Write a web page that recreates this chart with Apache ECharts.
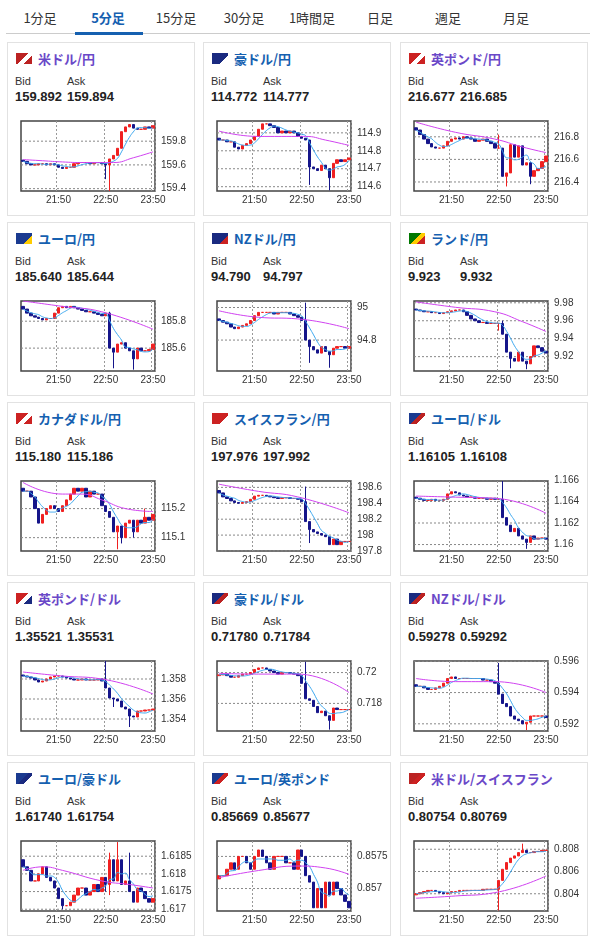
<!DOCTYPE html>
<html><head><meta charset="utf-8">
<script src="https://cdn.jsdelivr.net/npm/echarts@6/dist/echarts.min.js"></script>
<style>
body{margin:0;background:#fff;font-family:"Liberation Sans",Arial,"Noto Sans CJK JP",sans-serif;width:601px;height:943px;position:relative;overflow:hidden}
.tab{position:absolute;top:8px;font-size:13px;color:#333;text-align:center;width:68px;font-family:"Noto Sans CJK JP",sans-serif}
.tab.on{color:#1560b0;font-weight:bold}
.panel{position:absolute;width:188px;height:174px;border:1px solid #e2e2e2;box-sizing:border-box}
.ttl{position:absolute;left:30px;top:6px;font-size:13px;font-weight:bold;font-family:"Noto Sans CJK JP",sans-serif}
.flag{position:absolute;left:8px;top:10px;width:16px;height:11px}
.lb{position:absolute;top:32px;font-size:11px;color:#333}
.val{position:absolute;top:46px;font-size:13px;font-weight:bold;color:#222}
.ch{position:absolute;left:8px;top:72px;width:178px;height:98px}
</style></head><body>
<div id="root"></div>
<script>
const tabs = ['1分足','5分足','15分足','30分足','1時間足','日足','週足','月足'];
const times = [];
for (let m = 21*60+5; m <= 23*60+50; m += 5) times.push(Math.floor(m/60) + ':' + String(m%60).padStart(2,'0'));

const names = ['米ドル/円','豪ドル/円','英ポンド/円','ユーロ/円','NZドル/円','ランド/円','カナダドル/円','スイスフラン/円','ユーロ/ドル','英ポンド/ドル','豪ドル/ドル','NZドル/ドル','ユーロ/豪ドル','ユーロ/英ポンド','米ドル/スイスフラン'];
const visited = [true,false,true,false,false,false,false,false,false,true,false,true,false,false,true];
const bids = ['159.892','114.772','216.677','185.640','94.790','9.923','115.180','197.976','1.16105','1.35521','0.71780','0.59278','1.61740','0.85669','0.80754'];
const asks = ['159.894','114.777','216.685','185.644','94.797','9.932','115.186','197.992','1.16108','1.35531','0.71784','0.59292','1.61754','0.85677','0.80769'];
const flags = [['#b22','#fff','#b22'],['#1a2a80','#1a2a80','#fff'],['#c22','#fff','#c22'],['#1a3a90','#1a3a90','#fc0'],['#1a2a80','#1a2a80','#c22'],['#070','#fc0','#c22'],['#c22','#fff','#c22'],['#c22','#c22','#fff'],['#1a3a90','#b22','#fff'],['#c22','#fff','#1a2a80'],['#1a2a80','#b22','#fff'],['#1a2a80','#b22','#fff'],['#1a3a90','#1a2a80','#fff'],['#1a3a90','#c22','#fff'],['#b22','#c22','#fff']];

// y range [bottom, top] and tick labels per chart
const yRanges = [[159.38,159.97],[114.576,114.966],[216.32,216.94],[185.43,185.95],[94.61,95.04],[9.904,9.982],[115.054,115.295],[197.8,198.68],[1.1594,1.1659],[1.3528,1.3598],[0.71621,0.72075],[0.59154,0.59602],[1.61695,1.61893],[0.85665,0.85774],[0.80245,0.80874]];
const yTicks = [[159.4,159.6,159.8],[114.6,114.7,114.8,114.9],[216.4,216.6,216.8],[185.6,185.8],[94.8,95],[9.92,9.94,9.96,9.98],[115.1,115.2],[197.8,198,198.2,198.4,198.6],[1.16,1.162,1.164,1.166],[1.354,1.356,1.358],[0.718,0.72],[0.592,0.594,0.596],[1.617,1.6175,1.618,1.6185],[0.857,0.8575],[0.804,0.806,0.808]];

// first element = open of first bar, then closes of 34 bars
const prices = [
 [159.64,159.63,159.61,159.60,159.60,159.61,159.61,159.60,159.61,159.60,159.58,159.57,159.58,159.58,159.61,159.62,159.62,159.62,159.61,159.62,159.62,159.61,159.60,159.65,159.68,159.74,159.88,159.92,159.94,159.91,159.90,159.90,159.92,159.91,159.93],
 [114.87,114.86,114.86,114.85,114.85,114.82,114.81,114.83,114.84,114.86,114.88,114.92,114.95,114.95,114.94,114.93,114.90,114.91,114.90,114.91,114.90,114.88,114.87,114.86,114.71,114.70,114.69,114.72,114.70,114.65,114.73,114.75,114.74,114.75,114.76],
 [216.88,216.86,216.82,216.78,216.74,216.71,216.70,216.70,216.72,216.76,216.78,216.79,216.78,216.80,216.79,216.78,216.76,216.77,216.78,216.76,216.74,216.70,216.70,216.45,216.48,216.73,216.62,216.72,216.55,216.57,216.45,216.50,216.52,216.58,216.63],
 [185.91,185.89,185.86,185.84,185.83,185.82,185.81,185.82,185.82,185.86,185.90,185.91,185.90,185.91,185.90,185.89,185.88,185.87,185.87,185.86,185.85,185.84,185.86,185.60,185.57,185.63,185.64,185.60,185.58,185.52,185.60,185.58,185.58,185.59,185.63],
 [94.93,94.92,94.91,94.90,94.88,94.87,94.88,94.89,94.90,94.92,94.95,94.97,94.97,94.97,94.97,94.96,94.97,94.97,94.97,94.96,94.95,94.94,94.92,94.80,94.76,94.74,94.72,94.76,94.73,94.71,94.75,94.76,94.76,94.75,94.76],
 [9.973,9.972,9.971,9.970,9.970,9.969,9.969,9.968,9.969,9.970,9.971,9.972,9.972,9.970,9.966,9.962,9.960,9.958,9.958,9.957,9.957,9.957,9.957,9.945,9.925,9.918,9.915,9.925,9.915,9.912,9.920,9.932,9.930,9.926,9.924],
 [115.27,115.26,115.26,115.24,115.20,115.15,115.18,115.20,115.21,115.20,115.19,115.21,115.23,115.25,115.27,115.26,115.27,115.24,115.26,115.25,115.25,115.21,115.19,115.17,115.12,115.14,115.10,115.15,115.16,115.12,115.16,115.15,115.17,115.16,115.18],
 [198.56,198.53,198.48,198.46,198.43,198.41,198.40,198.41,198.42,198.45,198.49,198.50,198.50,198.49,198.48,198.47,198.46,198.47,198.47,198.46,198.46,198.45,198.42,198.17,198.07,198.04,198.02,198.00,197.98,197.88,197.95,197.88,197.92,197.92,197.92],
 [1.1644,1.1643,1.1642,1.1641,1.1641,1.1642,1.1641,1.1641,1.1642,1.1647,1.1649,1.1648,1.1646,1.1645,1.1644,1.1644,1.1643,1.1643,1.1643,1.1642,1.1643,1.1642,1.1642,1.1625,1.1618,1.1612,1.1615,1.1608,1.1605,1.1602,1.1608,1.1605,1.1606,1.1606,1.1605],
 [1.3584,1.3583,1.3582,1.3581,1.3579,1.3577,1.3578,1.3580,1.3582,1.3583,1.3583,1.3582,1.3581,1.3580,1.3579,1.3579,1.3580,1.3579,1.3579,1.3579,1.3580,1.3578,1.3571,1.3561,1.3560,1.3558,1.3552,1.3550,1.3543,1.3542,1.3548,1.3548,1.3549,1.3549,1.3550],
 [0.7198,0.71985,0.7199,0.7198,0.7197,0.7197,0.7198,0.7199,0.7199,0.7200,0.7202,0.7203,0.7203,0.7202,0.7201,0.7200,0.7199,0.7200,0.7200,0.71995,0.7199,0.7198,0.7193,0.7183,0.7182,0.7178,0.7174,0.7175,0.7172,0.7169,0.7177,0.7176,0.7176,0.7176,0.7176],
 [0.5945,0.5944,0.5944,0.5943,0.5942,0.5942,0.5943,0.5944,0.5946,0.5949,0.5950,0.5949,0.5949,0.5949,0.5949,0.5949,0.5949,0.5949,0.5948,0.5948,0.5947,0.5946,0.5939,0.5933,0.5931,0.5925,0.5923,0.5922,0.5920,0.5921,0.5925,0.5925,0.5925,0.5925,0.5924],
 [1.6184,1.6182,1.6181,1.6178,1.6178,1.6180,1.6182,1.6179,1.6178,1.6176,1.6173,1.6171,1.6171,1.6172,1.6174,1.6176,1.6176,1.6174,1.6175,1.6177,1.6175,1.6179,1.6177,1.6184,1.6178,1.6184,1.6177,1.6178,1.6175,1.6172,1.6176,1.6175,1.6173,1.6172,1.6173],
 [0.85715,0.8572,0.8572,0.8573,0.8574,0.8573,0.8575,0.8575,0.8574,0.8573,0.8575,0.8576,0.8575,0.8574,0.8573,0.8575,0.8575,0.8575,0.8574,0.8574,0.8573,0.8576,0.8575,0.8572,0.8571,0.8567,0.8570,0.8567,0.8571,0.8569,0.8571,0.8570,0.8569,0.8568,0.8567],
 [0.8039,0.8040,0.8041,0.8042,0.8043,0.8043,0.8042,0.8041,0.8040,0.8041,0.8042,0.8042,0.8043,0.8043,0.8043,0.8043,0.8043,0.8043,0.8044,0.8044,0.8044,0.8044,0.8052,0.8062,0.8068,0.8072,0.8074,0.8077,0.8079,0.8077,0.8077,0.8078,0.8078,0.8079,0.8079]
];
// long wicks: bar index -> [low, high] (null keeps body end)
const wicks = [
 {21:[159.48,null],22:[159.38,null]},
 {23:[114.61,null],28:[114.58,null]},
 {21:[null,216.82],23:[216.36,null],29:[216.38,null]},
 {22:[null,185.87],23:[185.45,null],28:[185.44,null]},
 {22:[null,95.03],23:[94.66,null],28:[94.63,null]},
 {21:[9.949,null],22:[null,9.96],24:[9.907,null],28:[9.906,null]},
 {24:[115.06,null],25:[115.08,null],28:[115.10,null],31:[null,115.2]},
 {22:[null,198.61],23:[197.9,null]},
 {22:[null,1.1659],28:[1.1596,null]},
 {21:[null,1.3598],23:[1.3552,null],27:[1.3532,null]},
 {22:[null,0.7207],28:[0.7163,null]},
 {21:[null,0.5959],28:[0.5916,null]},
 {10:[1.6170,null],21:[1.6175,null],22:[1.6174,1.6186],24:[null,1.6189],27:[null,1.6186]},
 {},
 {21:[0.8025,null],27:[null,0.8085]}
];
const slowMA = [
 [[0,159.645],[5,159.635],[10,159.625],[15,159.62],[20,159.62],[23,159.62],[28,159.66],[33,159.71]],
 [[0,114.91],[10,114.88],[20,114.88],[22,114.88],[27,114.86],[33,114.83]],
 [[0,216.93],[10,216.84],[20,216.78],[27,216.71],[33,216.66]],
 [[0,185.95],[10,185.91],[20,185.87],[33,185.74]],
 [[0,94.98],[10,94.94],[20,94.93],[33,94.87]],
 [[0,9.981],[10,9.975],[20,9.97],[27,9.959],[33,9.948]],
 [[0,115.29],[10,115.25],[15,115.25],[20,115.23],[26,115.2],[33,115.19]],
 [[0,198.64],[10,198.55],[20,198.48],[33,198.28]],
 [[0,1.1645],[10,1.1644],[20,1.1643],[33,1.1629]],
 [[0,1.3587],[10,1.3583],[20,1.358],[33,1.3565]],
 [[0,0.71995],[10,0.7199],[20,0.7199],[33,0.7187]],
 [[0,0.5949],[10,0.5947],[20,0.5947],[33,0.594]],
 [[0,1.6181],[5,1.6182],[10,1.6181],[20,1.6178],[27,1.6177],[33,1.6176]],
 [[0,0.85717],[10,0.85728],[20,0.85735],[27,0.85732],[33,0.85722]],
 [[0,0.8036],[10,0.8038],[20,0.8041],[33,0.8056]]
];

const root = document.getElementById('root');
let h = '';
tabs.forEach((t, i) => { h += `<div class="tab${i==1?' on':''}" style="left:${6+i*68}px">${t}</div>`; });
h += '<div style="position:absolute;left:6px;top:33px;width:584px;height:1px;background:#ccc"></div>';
h += '<div style="position:absolute;left:75px;top:32px;width:68px;height:3px;background:#1560b0"></div>';
names.forEach((n, i) => {
  const x = [7, 203, 400][i%3], y = 42 + Math.floor(i/3)*180;
  const f = flags[i];
  h += `<div class="panel" style="left:${x}px;top:${y}px">
   <div class="flag" style="background:linear-gradient(135deg,${f[0]} 0 45%,${f[1]} 45% 70%,${f[2]} 70%)"></div>
   <div class="ttl" style="color:${visited[i]?'#6a48c8':'#1560b0'}">${n}</div>
   <div class="lb" style="left:7px">Bid</div><div class="lb" style="left:59px">Ask</div>
   <div class="val" style="left:7px">${bids[i]}</div><div class="val" style="left:59px">${asks[i]}</div>
   <div class="ch" id="c${i}"></div></div>`;
});
root.innerHTML = h;

names.forEach((n, i) => {
  const p = prices[i];
  const candles = [];
  for (let k = 1; k < p.length; k++) {
    const o = p[k-1], c = p[k], w = wicks[i][k-1] || [null, null];
    candles.push([o, c, w[0] ?? Math.min(o, c), w[1] ?? Math.max(o, c)]);
  }
  const closes = p.slice(1);
  const fast = closes.map((v, k) => {
    const s = closes.slice(Math.max(0, k-4), k+1);
    return s.reduce((a, b) => a + b, 0) / s.length;
  });
  const show = (idx, v) => /:50$/.test(v);
  // dotted price levels on a hidden 0..1 x axis, labelled at their right end
  const levels = yTicks[i].map(v => ({
    type: 'line', xAxisIndex: 1, data: [[0, v], [1, v]], symbol: 'none', silent: true, z: 1,
    lineStyle: {color: '#888', type: [2, 2], width: 1},
    endLabel: {show: true, color: '#333', fontSize: 10, distance: 6, formatter: () => String(v)}
  }));
  const chart = echarts.init(document.getElementById('c' + i));
  chart.setOption({
    animation: false,
    grid: {left: 5, top: 6, width: 134, height: 70, show: true, borderColor: '#444', borderWidth: 1.5},
    xAxis: [{type: 'category', data: times, boundaryGap: true,
      axisLine: {show: false}, axisTick: {show: false},
      axisLabel: {interval: show, color: '#333', fontSize: 10, margin: 4},
      splitLine: {show: true, interval: show, lineStyle: {color: '#999', type: [2, 2]}}},
      {type: 'value', min: 0, max: 1, show: false}],
    yAxis: {type: 'value', min: yRanges[i][0], max: yRanges[i][1], position: 'right',
      axisLine: {show: false}, axisTick: {show: false},
      axisLabel: {show: false}, splitLine: {show: false}},
    series: [
      ...levels,
      {type: 'candlestick', data: candles, barWidth: 3, z: 3,
        itemStyle: {color: '#f02020', color0: '#15158a', borderColor: '#f02020', borderColor0: '#15158a', borderWidth: 1}},
      {type: 'line', data: fast, symbol: 'none', smooth: true, z: 4, lineStyle: {color: '#3aa6ee', width: 1}},
      {type: 'line', data: slowMA[i], symbol: 'none', smooth: true, z: 4, lineStyle: {color: '#d043f0', width: 1}}
    ]
  });
});
</script></body></html>
